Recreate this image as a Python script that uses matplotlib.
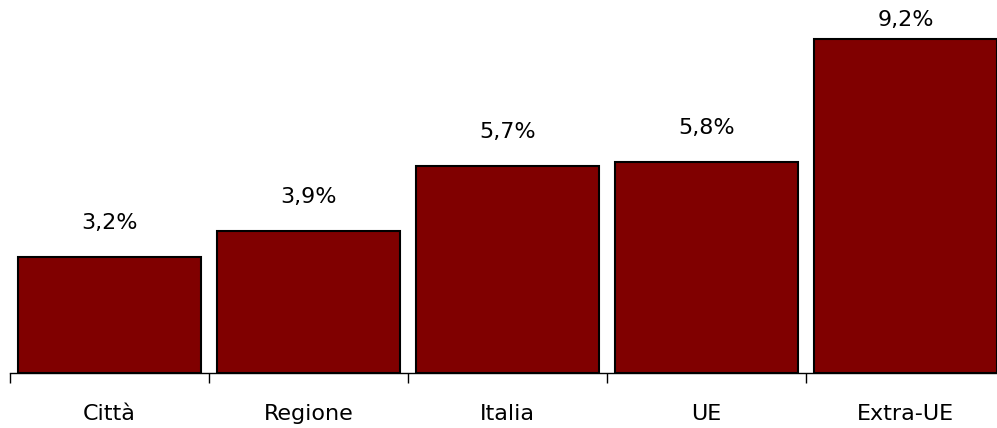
import matplotlib.pyplot as plt
import numpy as np

categories = ["Città", "Regione", "Italia", "UE", "Extra-UE"]
values = [3.2, 3.9, 5.7, 5.8, 9.2]
value_labels = ["3,2%", "3,9%", "5,7%", "5,8%", "9,2%"]

fig = plt.figure(figsize=(9.97, 4.28), dpi=100)
ax = fig.add_axes([10 / 997, 55 / 428, 995 / 997, 373 / 428])

x = np.arange(len(categories))
ax.bar(x, values, width=0.915, color="#800000", edgecolor="black", linewidth=1.5)

ymax = 10.27
for xi, v, lab in zip(x, values, value_labels):
    # label above the bar, kept inside the plot area
    ax.text(xi, min(v + 0.94, 9.72), lab, ha="center", va="center", fontsize=16)

ax.set_xlim(-0.5, len(categories) - 0.5)
ax.set_ylim(0, ymax)

# labels at centres, tick marks at boundaries
ax.set_xticks(x)
ax.set_xticklabels(categories, fontsize=16)
ax.tick_params(axis="x", which="major", length=0, pad=22)
ax.set_xticks(np.arange(-0.5, len(categories)), minor=True)
ax.tick_params(axis="x", which="minor", length=7, width=1, direction="out")

ax.set_yticks([])
for side in ["top", "right", "left"]:
    ax.spines[side].set_visible(False)
ax.spines["bottom"].set_linewidth(1)

fig.savefig("out.png", dpi=100)
